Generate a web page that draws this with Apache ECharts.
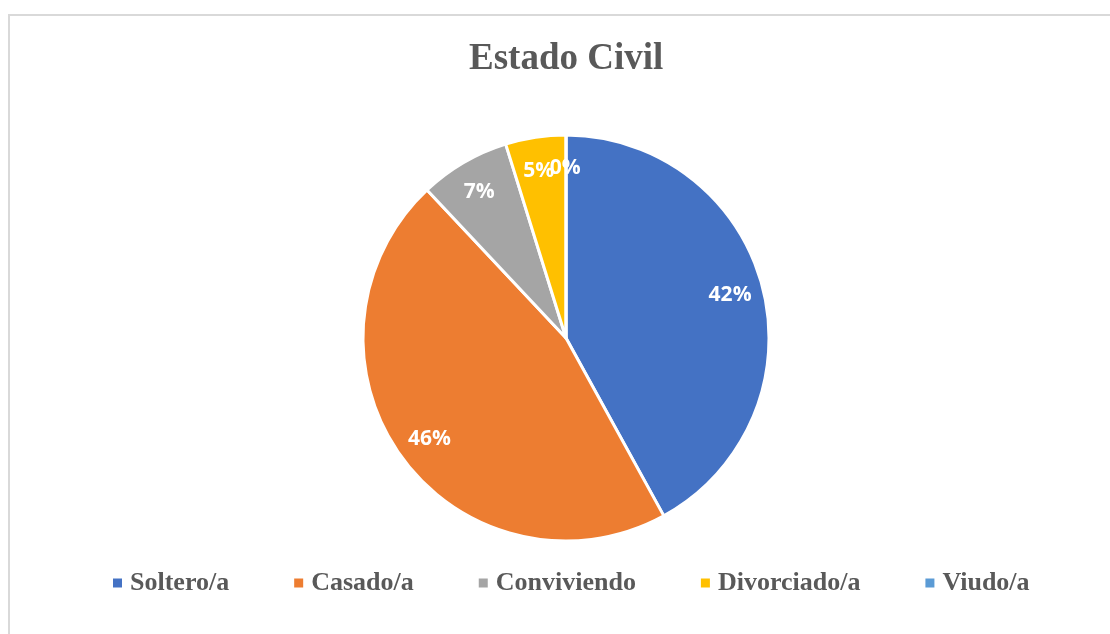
<!DOCTYPE html>
<html>
<head>
<meta charset="utf-8">
<script src="https://cdn.jsdelivr.net/npm/echarts@6/dist/echarts.min.js"></script>
<style>html,body{margin:0;padding:0;background:#fff}#c{width:1110px;height:634px}</style>
</head>
<body>
<div id="c"></div>
<script>
const titleText = 'Estado Civil';
const categories = ['Soltero/a', 'Casado/a', 'Conviviendo', 'Divorciado/a', 'Viudo/a'];
const values = [42.0, 46.0, 7.2, 4.8, 0];
const colors = ['#4472C4', '#ED7D31', '#A5A5A5', '#FFC000', '#5B9BD5'];

const data = categories.map((n, i) => ({ name: n, value: values[i] }));
const chart = echarts.init(document.getElementById('c'));
chart.setOption({
  animation: false,
  color: colors,
  graphic: [{
    type: 'rect', shape: { x: 9, y: 15, width: 1200, height: 700 },
    style: { fill: 'none', stroke: '#d9d9d9', lineWidth: 2 }, silent: true, z: -10
  }],
  title: {
    text: titleText, left: 469, top: 41, padding: 0,
    textStyle: { fontFamily: 'Liberation Serif', fontWeight: 'bold', fontSize: 37, color: '#595959' }
  },
  legend: {
    data: categories, left: 113, top: 570, padding: 0,
    icon: 'rect', itemWidth: 9, itemHeight: 9, itemGap: 65,
    itemStyle: { borderWidth: 0 },
    textStyle: { fontFamily: 'Liberation Serif', fontWeight: 'bold', fontSize: 26, color: '#595959', padding: [0, 0, 0, 3] }
  },
  series: [{
    type: 'pie', center: [566, 338], radius: [0, 203], startAngle: 90, clockwise: true,
    percentPrecision: 0, silent: true,
    itemStyle: { borderColor: '#fff', borderWidth: 3 },
    label: { show: false }, labelLine: { show: false },
    data: data
  }, {
    type: 'pie', center: [566, 338], radius: [130, 203], startAngle: 90, clockwise: true,
    percentPrecision: 0, silent: true, legendHoverLink: false, minAngle: 0.6,
    avoidLabelOverlap: false,
    labelLayout: { hideOverlap: false },
    itemStyle: { color: 'rgba(0,0,0,0)', borderWidth: 0 },
    label: { show: true, position: 'inside', formatter: '{d}%', color: '#fff',
      fontFamily: 'Open Sans', fontWeight: 'bold', fontSize: 21 },
    labelLine: { show: false },
    data: data
  }]
});
</script>
</body>
</html>
